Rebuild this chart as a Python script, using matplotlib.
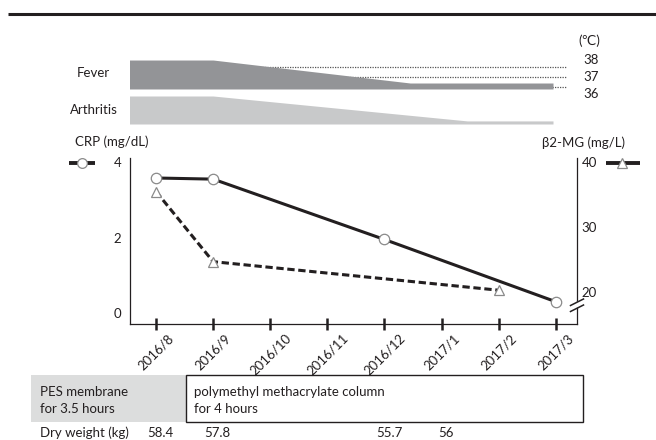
import matplotlib
matplotlib.use('Agg')
import matplotlib.pyplot as plt
import matplotlib.transforms as mtransforms
from matplotlib.lines import Line2D
from matplotlib.patches import Rectangle, Polygon

# Data
months = ['2016/8', '2016/9', '2016/10', '2016/11', '2016/12', '2017/1', '2017/2', '2017/3']
crp_x = [0, 1, 4, 7]
crp = [3.58, 3.55, 1.95, 0.30]            # mg/dL
b2mg_x = [0, 1, 6]
b2mg = [35.5, 24.7, 20.3]                 # mg/L
fever_x = [-0.51, 1, 4.45, 6.95]
fever_temp = [38.66, 38.66, 36.39, 36.39]  # deg C
fever_base = 35.8
temp_refs = [38, 37, 36]
arth_x = [-0.51, 1, 5.45, 6.95]
arth_level = [1.0, 1.0, 0.11, 0.11]        # relative
dry_x = [0, 1, 4, 5]
dry_weight = ['58.4', '57.8', '55.7', '56']

TXT = '#231f20'
FEVER_C = '#939497'
ARTH_C = '#c8c9ca'
PES_C = '#dcdddd'

plt.rcParams['font.family'] = ['Lato', 'DejaVu Sans']
plt.rcParams['font.size'] = 9.5
plt.rcParams['text.color'] = TXT

W, H = 656, 440
fig = plt.figure(figsize=(W / 100, H / 100), dpi=100)


def fx(x):
    return x / W


def fy(y):
    return 1 - y / H


x0, x1 = 129.5, 577
xlim = (-0.464, 7.37)

# thick rule at the top
fig.add_artist(Line2D([fx(8), fx(656)], [fy(13.7)] * 2, transform=fig.transFigure,
                      color=TXT, lw=2.2, solid_capstyle='butt'))

# fever band
axf = fig.add_axes([fx(x0), fy(90), fx(x1) - fx(x0), fy(58) - fy(90)])
axf.set_xlim(xlim)
axf.set_ylim(35.70, 38.86)
axf.axis('off')
axf.fill_between(fever_x, fever_base, fever_temp, color=FEVER_C, lw=0, zorder=2)
axf.hlines(temp_refs, -0.5, 7.19, colors='#555555', lw=0.9, linestyles=(0, (1, 1)), zorder=1)

# arthritis band
axa = fig.add_axes([fx(x0), fy(124), fx(x1) - fx(x0), fy(96) - fy(124)])
axa.set_xlim(xlim)
axa.set_ylim(0, 1)
axa.axis('off')
axa.fill_between(arth_x, 0, arth_level, color=ARTH_C, lw=0)

fig.text(fx(93.5), fy(73), 'Fever', ha='center', va='center')
fig.text(fx(93.5), fy(110), 'Arthritis', ha='center', va='center')
fig.text(fx(589), fy(41), '(\u2103)', ha='center', va='center')
for t, yy in zip(temp_refs, [60, 77, 94]):
    fig.text(fx(591), fy(yy), str(t), ha='center', va='center')

# main chart
ax = fig.add_axes([fx(x0), fy(324), fx(x1) - fx(x0), fy(158) - fy(324)])
ax2 = ax.twinx()
ax.set_zorder(2)
ax.patch.set_visible(False)

ax.plot(crp_x, crp, '-', color=TXT, lw=2.2, marker='o', ms=7.5,
        mfc='white', mec='#8a8a8a', mew=0.9, zorder=3)
ax2.plot(b2mg_x, b2mg, color=TXT, lw=2.2, dashes=(2.4, 1.2), marker='^', ms=7.5,
         mfc='white', mec='#8a8a8a', mew=0.9)

ax.set_xlim(xlim)
ax.set_ylim(-0.29, 4.11)
ax2.set_ylim(15.1, 40.66)
ax.set_yticks([0, 2, 4])
ax2.set_yticks([20, 30, 40])
ax.set_xticks(range(len(months)))
ax.set_xticklabels(months, rotation=45, ha='center')
ax.tick_params(axis='x', direction='inout', length=8.6, width=1.8, pad=1.5, colors=TXT)
ax.tick_params(axis='y', length=0, pad=6, colors=TXT)
ax2.tick_params(axis='y', length=0, pad=3.5, colors=TXT)
for a in (ax, ax2):
    a.spines['top'].set_visible(False)
    for s in ('left', 'right', 'bottom'):
        a.spines[s].set_linewidth(0.9)
        a.spines[s].set_color(TXT)
ax.spines['right'].set_visible(False)
ax2.spines['left'].set_visible(False)
ax2.spines['bottom'].set_visible(False)

fig.text(fx(112), fy(142), 'CRP (mg/dL)', ha='center', va='center')
fig.text(fx(583.5), fy(143), '\u03b22-MG (mg/L)', ha='center', va='center')

# legend keys beside the axes
fig.add_artist(Line2D([fx(69), fx(95)], [fy(163)] * 2, transform=fig.transFigure,
                      color=TXT, lw=2.8, solid_capstyle='butt'))
fig.add_artist(Line2D([fx(82)], [fy(163)], transform=fig.transFigure, marker='o', ms=7,
                      mfc='white', mec='#8a8a8a', mew=0.9, lw=0))
fig.add_artist(Line2D([fx(606), fx(640)], [fy(163)] * 2, transform=fig.transFigure,
                      color=TXT, lw=2.8, solid_capstyle='butt'))
fig.add_artist(Line2D([fx(622)], [fy(163)], transform=fig.transFigure, marker='^', ms=7,
                      mfc='white', mec='#8a8a8a', mew=0.9, lw=0))

# axis break on the right spine
fig.add_artist(Polygon([(fx(571), fy(311)), (fx(583), fy(305)), (fx(583), fy(299)), (fx(571), fy(305))],
                       closed=True, transform=fig.transFigure, fc='white', ec='none', zorder=5))
for dy in (0, 6):
    fig.add_artist(Line2D([fx(570.5), fx(583.5)], [fy(311.5 - dy), fy(305 - dy)],
                          transform=fig.transFigure, color=TXT, lw=1.1, zorder=6))

# treatment table
fig.add_artist(Rectangle((fx(31), fy(422)), fx(186) - fx(31), fy(375) - fy(422),
                         transform=fig.transFigure, fc=PES_C, ec='none'))
fig.add_artist(Rectangle((fx(186), fy(421.5)), fx(583) - fx(186), fy(375) - fy(421.5),
                         transform=fig.transFigure, fc='none', ec=TXT, lw=1.0))
fig.text(fx(40), fy(392), 'PES membrane', ha='left', va='center')
fig.text(fx(40), fy(409), 'for 3.5 hours', ha='left', va='center')
fig.text(fx(194), fy(392), 'polymethyl methacrylate column', ha='left', va='center')
fig.text(fx(194), fy(409), 'for 4 hours', ha='left', va='center')

fig.text(fx(40), fy(433), 'Dry weight (kg)', ha='left', va='center')
trans = mtransforms.blended_transform_factory(ax.transData, fig.transFigure)
for xi, w in zip(dry_x, dry_weight):
    ax.text(xi + 0.08, fy(433), w, transform=trans, ha='center', va='center', clip_on=False)

fig.savefig('out.png', dpi=100)
